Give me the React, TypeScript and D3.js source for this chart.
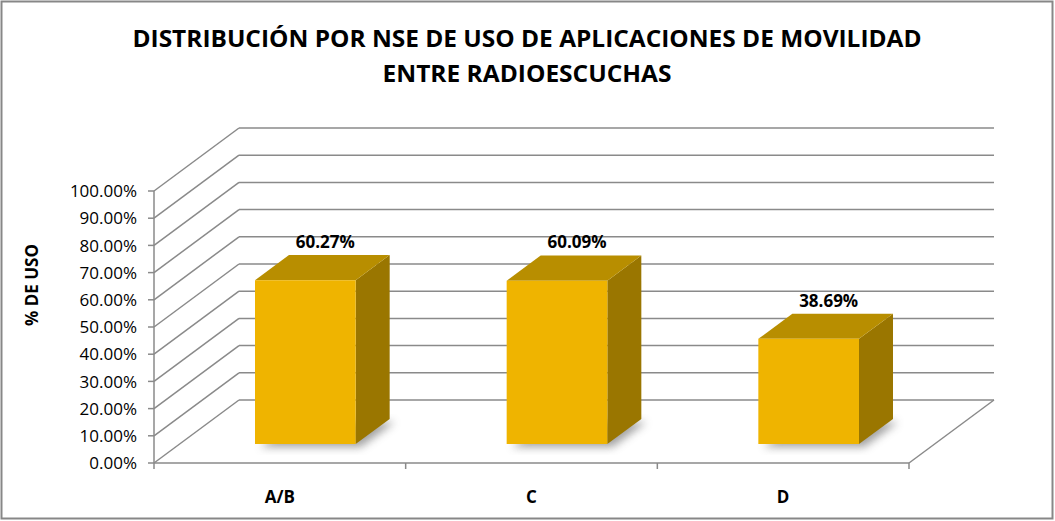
import { useEffect } from "react"
import * as d3 from "d3"

const categories = ["A/B", "C", "D"]
const usage = [0.6027, 0.6009, 0.3869]
const yTicks = [0, 0.1, 0.2, 0.3, 0.4, 0.5, 0.6, 0.7, 0.8, 0.9, 1]
const titleLines = ["DISTRIBUCIÓN POR NSE DE USO DE APLICACIONES DE MOVILIDAD", "ENTRE RADIOESCUCHAS"]
const yTitle = "% DE USO"

const W = 1055
const H = 521
// depth offset of the 3D box (front plane -> back wall)
const DX = 85
const DY = 63

export default function App() {
  useEffect(() => {
    document.body.style.margin = "0"
  }, [])

  const x = d3.scaleBand().domain(categories).range([154, 909]).paddingInner(0).paddingOuter(0)
  const y = d3.scaleLinear().domain([0, 1]).range([463, 191])
  const bw = x.bandwidth()
  const fmt = d3.format(".2%")

  const P = (px: number, v: number, d: number): [number, number] => [px + DX * d, y(v) - DY * d]
  const poly = (pts: [number, number][]) => pts.map((p) => p.join(",")).join(" ")

  const grid = "#8a8a8a"
  const font = "'Open Sans', 'Noto Sans', sans-serif"

  return (
    <svg width={W} height={H} style={{ display: "block", fontFamily: font }}>
      <defs>
        <filter id="shadow" x="-30%" y="-30%" width="160%" height="160%">
          <feGaussianBlur stdDeviation="4" />
        </filter>
      </defs>
      <rect x={0} y={0} width={W} height={H} fill="#fff" />
      <rect x={1.5} y={1.5} width={W - 4} height={H - 4} fill="none" stroke="#878787" strokeWidth={2} />

      {/* title */}
      <text x={527} y={47} textAnchor="middle" fontSize={24} fontWeight="bold" textLength={789} lengthAdjust="spacingAndGlyphs">
        {titleLines[0]}
      </text>
      <text x={527} y={82} textAnchor="middle" fontSize={24} fontWeight="bold" textLength={289} lengthAdjust="spacingAndGlyphs">
        {titleLines[1]}
      </text>

      {/* walls: diagonal + back gridlines */}
      {yTicks.map((t) => {
        const [fx, fy] = P(154, t, 0)
        const [bx, by] = P(154, t, 1)
        return (
          <g key={t} stroke={grid} strokeWidth={1.5} fill="none">
            <line x1={fx} y1={fy} x2={bx} y2={by} />
            <line x1={bx} y1={by} x2={P(909, t, 1)[0]} y2={by} />
          </g>
        )
      })}

      {/* floor */}
      <g stroke={grid} strokeWidth={1.5} fill="none">
        <line x1={154} y1={y(0)} x2={909} y2={y(0)} />
        <line x1={909} y1={y(0)} x2={P(909, 0, 1)[0]} y2={P(909, 0, 1)[1]} />
        <line x1={154} y1={y(1)} x2={154} y2={y(0)} />
      </g>

      {/* y ticks and labels */}
      {yTicks.map((t) => (
        <g key={"yt" + t}>
          <line x1={148} x2={154} y1={y(t)} y2={y(t)} stroke={grid} strokeWidth={1.5} />
          <text x={137} y={y(t)} dy="0.36em" textAnchor="end" fontSize={17} fill="#000">
            {fmt(t)}
          </text>
        </g>
      ))}

      {/* x ticks and labels */}
      {[...categories.map((c) => x(c) as number), 909].map((px, i) => (
        <line key={"xt" + i} x1={px} x2={px} y1={y(0)} y2={y(0) + 6} stroke={grid} strokeWidth={1.5} />
      ))}
      {categories.map((c) => (
        <text key={"xl" + c} x={(x(c) as number) + bw / 2} y={503} textAnchor="middle" fontSize={17} fontWeight="bold">
          {c}
        </text>
      ))}

      <text transform={`translate(38,${285}) rotate(-90)`} textAnchor="middle" fontSize={17} fontWeight="bold">
        {yTitle}
      </text>

      {/* bar shadows */}
      {categories.map((c) => {
        const x0 = (x(c) as number) + bw * 0.3
        const x1 = x0 + bw * 0.4
        const pts: [number, number][] = [P(x0, 0, 0.3), P(x1, 0, 0.3), P(x1, 0, 0.7), P(x0, 0, 0.7)].map(
          ([a, b]) => [a + 5, b + 3] as [number, number]
        )
        return <polygon key={"s" + c} points={poly(pts)} fill="#555" opacity={0.55} filter="url(#shadow)" />
      })}

      {/* bars */}
      {categories.map((c, i) => {
        const v = usage[i]
        const x0 = (x(c) as number) + bw * 0.3
        const x1 = x0 + bw * 0.4
        const front = [P(x0, 0, 0.3), P(x1, 0, 0.3), P(x1, v, 0.3), P(x0, v, 0.3)]
        const top = [P(x0, v, 0.3), P(x1, v, 0.3), P(x1, v, 0.7), P(x0, v, 0.7)]
        const side = [P(x1, 0, 0.3), P(x1, 0, 0.7), P(x1, v, 0.7), P(x1, v, 0.3)]
        const [, ty] = P(x0, v, 0.7)
        return (
          <g key={"b" + c}>
            <polygon points={poly(side)} fill="#9a7600" />
            <polygon points={poly(top)} fill="#b88e00" />
            <polygon points={poly(front)} fill="#efb400" />
            <text x={(x0 + x1) / 2 + DX * 0.5 + 3} y={ty - 7} textAnchor="middle" fontSize={17} fontWeight="bold">
              {fmt(v)}
            </text>
          </g>
        )
      })}
    </svg>
  )
}
